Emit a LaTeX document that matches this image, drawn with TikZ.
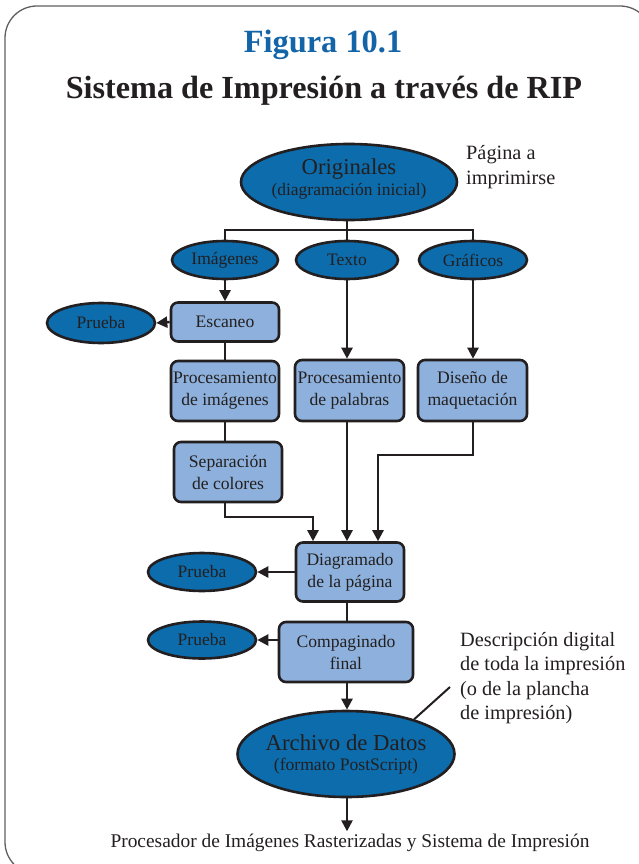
\documentclass[tikz,border=0pt]{standalone}
\usepackage{fontspec}
\setmainfont{Liberation Serif}
\usetikzlibrary{shapes.geometric,arrows.meta}
\definecolor{ink}{RGB}{35,31,32}
\definecolor{dkblue}{RGB}{12,108,172}
\definecolor{ltblue}{RGB}{141,177,220}
\definecolor{titleblue}{RGB}{20,100,168}
\definecolor{framegray}{RGB}{95,95,95}
\newcommand\fsz[2]{\fontsize{#1}{#2}\selectfont}
\begin{document}
\begin{tikzpicture}[x=1pt,y=-1pt,
  oval/.style={ellipse,draw=ink,fill=dkblue,line width=2.6pt,inner sep=0pt,
    text=ink,align=center,font=\fsz{17.5}{20}},
  stepbox/.style={rectangle,rounded corners=7pt,draw=ink,fill=ltblue,line width=2.6pt,
    minimum width=108pt,minimum height=60pt,inner sep=0pt,align=center,text=ink,
    font=\fsz{17.6}{22}},
  link/.style={draw=ink,line width=2.4pt},
  arr/.style={link,-{Triangle[length=11pt,width=11pt]}},
  note/.style={text=ink,align=left,anchor=north west,inner sep=0pt,font=\fsz{20.3}{24.5}}]

% page and frame
\useasboundingbox (0,0) rectangle (639,864);
\begin{scope}
  \clip (0,0) rectangle (639,864);
  \draw[framegray,line width=1.3pt,rounded corners=32pt] (5,6) rectangle (652,874);
\end{scope}

% headings
\node[anchor=base,text=titleblue,font=\bfseries\fsz{32.4}{36}] (fig) at (323,53) {Figura 10.1};
\node[anchor=base,text=ink,font=\bfseries\fsz{32.2}{36}] (ttl) at (324,99) {Sistema de Impresión a través de RIP};

% sources
\node[oval,minimum width=216pt,minimum height=76pt,inner xsep=-8pt] (orig) at (349,182)
  {{\fsz{22.7}{25}Originales}\\[1pt]{\fsz{17.5}{20}(diagramación inicial)\rule[-9pt]{0pt}{9pt}}};
\node[note,font=\fsz{20.3}{25}] (pagina) at (466,145) {Página a\\imprimirse};

\node[oval,minimum width=106pt,minimum height=38pt] (img) at (225,260) {Imágenes};
\node[oval,minimum width=102pt,minimum height=38pt] (txt) at (347,260) {Texto};
\node[oval,minimum width=108pt,minimum height=38pt] (graf) at (473,260) {Gráficos};

% processing steps
\node[stepbox,minimum height=39pt] (scan) at (225,322) {Escaneo};
\node[oval,minimum width=108pt,minimum height=40pt] (pr1) at (101,323) {Prueba};
\node[stepbox] (procimg) at (225,391) {Procesamiento\\de imágenes};
\node[stepbox] (sep) at (228,472) {Separación\\de colores};
\node[stepbox,minimum width=109pt,minimum height=61pt] (procpal) at (349.5,390.5) {Procesamiento\\de palabras};
\node[stepbox,minimum width=109pt,minimum height=61pt] (diseno) at (472.5,390.5) {Diseño de\\maquetación};

\node[stepbox,minimum height=59pt] (diag) at (350,572) {Diagramado\\de la página};
\node[oval,minimum width=108pt,minimum height=38pt] (pr2) at (202,572) {Prueba};
\node[stepbox,minimum width=134pt] (comp) at (346,652) {Compaginado\\final};
\node[oval,minimum width=108pt,minimum height=37pt] (pr3) at (202,640) {Prueba};

\node[oval,minimum width=217pt,minimum height=86pt,inner xsep=-10pt] (arch) at (346,754)
  {{\fsz{22.8}{25}Archivo de Datos}\\{\fsz{17.6}{20}(formato PostScript)}};
\node[note] (desc) at (460,632) {Descripción digital\\de toda la impresión\\(o de la plancha\\de impresión)};

\node[anchor=base,text=ink,font=\fsz{19.4}{22},inner sep=2pt] (proc) at (350,847)
  {Procesador de Imágenes Rasterizadas y Sistema de Impresión};

% junction points of the routed connectors
\coordinate (bus) at (347,230);
\coordinate (j1) at (313,517);
\coordinate (j2) at (378,455);
\coordinate (calloutend) at (450,687);

% connectors
\draw[link] (txt.north |- orig.south) -- (bus);
\draw[link] (img.north) -- (img.north |- bus) -- (graf.north |- bus) -- (graf.north);
\draw[link] (txt.north) -- (bus);

\draw[arr] (img.south) -- (scan.north);
\draw[arr] (scan.west) -- (pr1.east);
\draw[link] (scan.south) -- (procimg.north);
\draw[link] (procimg.south) -- (procimg.south |- sep.north);
\draw[arr] (procimg.south |- sep.south) |- (j1) -- (j1 |- diag.north);

\draw[arr] (txt.south) -- (txt.south |- procpal.north);
\draw[arr] (txt.south |- procpal.south) -- (txt.south |- diag.north);

\draw[arr] (graf.south) -- (graf.south |- diseno.north);
\draw[arr] (graf.south |- diseno.south) |- (j2) -- (j2 |- diag.north);

\draw[arr] (diag.west) -- (pr2.east);
\draw[link] (txt.south |- diag.south) -- (txt.south |- comp.north);
\draw[arr] (comp.west |- pr3.east) -- (pr3.east);
\draw[arr] (txt.south |- comp.south) -- (txt.south |- arch.north);
\draw[arr] (txt.south |- arch.south) -- (txt.south |- proc.north);

\draw[ink,line width=2pt] (arch.27) -- (calloutend);
\end{tikzpicture}
\end{document}
